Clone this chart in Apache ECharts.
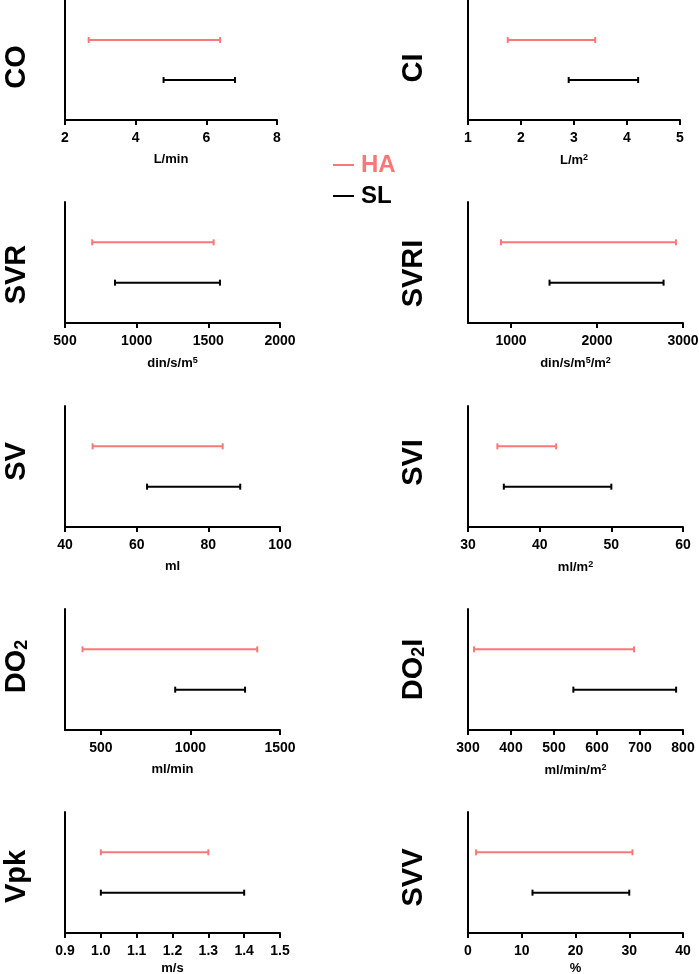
<!DOCTYPE html>
<html><head>
<meta charset="UTF-8">
<title>HA vs SL ranges</title>
<style>
  html, body { margin: 0; padding: 0; background: #fff; }
  #chart { width: 699px; height: 974px; }
</style>
</head>
<body>
<div id="chart"></div>
<script src="https://cdn.jsdelivr.net/npm/echarts@6/dist/echarts.min.js"></script>
<script>
// panel order: left/right per row
const names = ['CO', 'CI', 'SVR', 'SVRI', 'SV', 'SVI', 'DO{sub|2}', 'DO{sub|2}I', 'Vpk', 'SVV'];
const units = ['L/min', 'L/m{sup|2}', 'din/s/m{sup|5}', 'din/s/m{sup|5}/m{sup|2}', 'ml', 'ml/m{sup|2}',
               'ml/min', 'ml/min/m{sup|2}', 'm/s', '%'];
const axisMin = [2, 1, 500, 500, 40, 30, 300, 300, 0.9, 0];
const axisMax = [8, 5, 2000, 3000, 100, 60, 1500, 800, 1.5, 40];
const tickValues = [
  [2, 4, 6, 8],
  [1, 2, 3, 4, 5],
  [500, 1000, 1500, 2000],
  [1000, 2000, 3000],
  [40, 60, 80, 100],
  [30, 40, 50, 60],
  [500, 1000, 1500],
  [300, 400, 500, 600, 700, 800],
  [0.9, 1.0, 1.1, 1.2, 1.3, 1.4, 1.5],
  [0, 10, 20, 30, 40]
];
const haLow  = [2.67, 1.75, 690, 883, 47.7, 34.1, 398, 314, 1.0, 1.5];
const haHigh = [6.39, 3.40, 1537, 2918, 84.0, 42.3, 1373, 686, 1.3, 30.6];
const slLow  = [4.79, 2.90, 849, 1448, 62.9, 35.0, 915, 545, 1.0, 12.0];
const slHigh = [6.81, 4.21, 1581, 2774, 88.9, 50.0, 1305, 784, 1.4, 30.0];

const HA_COLOR = '#f87878';
const SL_COLOR = '#000000';
const FONT = "'Liberation Sans', Arial, sans-serif";

// layout
const rowBottom = [120, 323, 527, 730, 933];
const colLeft = [65, 468];
const gridH = 121;
// how far each panel title sits below the middle of its axis (px)
const titleDrop = [7, 8, 12, 11, -5, -4, -3, 0, 4, 5];

function rangeItem(params, api) {
  const a = api.coord([api.value(0), api.value(2)]);
  const b = api.coord([api.value(1), api.value(2)]);
  const color = api.visual('color');
  const cap = 3;
  const st = { stroke: color, lineWidth: 2 };
  return {
    type: 'group',
    children: [
      { type: 'line', shape: { x1: a[0], y1: a[1], x2: b[0], y2: b[1] }, style: st },
      { type: 'line', shape: { x1: a[0], y1: a[1] - cap, x2: a[0], y2: a[1] + cap }, style: st },
      { type: 'line', shape: { x1: b[0], y1: b[1] - cap, x2: b[0], y2: b[1] + cap }, style: st }
    ]
  };
}

const grids = [], xAxes = [], yAxes = [], series = [];

names.forEach((nm, i) => {
  const row = Math.floor(i / 2), col = i % 2;
  const bottom = rowBottom[row];
  const top = Math.max(0, bottom - gridH);
  const width = row === 0 ? 212 : 215;
  grids.push({
    left: colLeft[col], top: top, width: width, height: bottom - top,
    containLabel: false, outerBoundsMode: 'none'
  });

  const dec = tickValues[i].some(t => !Number.isInteger(t)) ? 1 : 0;
  xAxes.push({
    gridIndex: i,
    type: 'value',
    min: axisMin[i],
    max: axisMax[i],
    name: units[i],
    nameLocation: 'middle',
    nameGap: row === 4 ? 29 : 33,
    nameTextStyle: {
      fontFamily: FONT, fontSize: 13, fontWeight: 'bold', color: '#000',
      rich: {
        sup: { fontFamily: FONT, fontSize: 9, fontWeight: 'bold', color: '#000', verticalAlign: 'top', lineHeight: 14 }
      }
    },
    axisLine: { lineStyle: { color: '#000', width: 2 } },
    axisTick: { show: true, length: 5, lineStyle: { color: '#000', width: 2 }, customValues: tickValues[i] },
    axisLabel: {
      customValues: tickValues[i],
      margin: 11,
      fontFamily: FONT, fontSize: 14, fontWeight: 'bold', color: '#000',
      formatter: v => Number(v).toFixed(dec)
    },
    splitLine: { show: false }
  });

  const d = titleDrop[i];
  yAxes.push({
    gridIndex: i,
    type: 'value',
    min: 0,
    max: 3,
    name: nm,
    nameLocation: 'middle',
    nameRotate: 90,
    nameGap: col === 0 ? 34 : 40,
    nameTextStyle: {
      fontFamily: FONT, fontSize: 29, fontWeight: 'bold', color: '#000',
      padding: d >= 0 ? [0, 2 * d, 0, 0] : [0, 0, 0, -2 * d],
      rich: {
        sub: { fontFamily: FONT, fontSize: 18, fontWeight: 'bold', color: '#000', verticalAlign: 'bottom' }
      }
    },
    axisLine: { show: true, lineStyle: { color: '#000', width: 2 } },
    axisTick: { show: false },
    axisLabel: { show: false },
    splitLine: { show: false }
  });

  series.push({
    type: 'custom', name: 'HA', xAxisIndex: i, yAxisIndex: i,
    itemStyle: { color: HA_COLOR },
    encode: { x: [0, 1], y: 2 },
    data: [[haLow[i], haHigh[i], 2]],
    renderItem: rangeItem
  });
  series.push({
    type: 'custom', name: 'SL', xAxisIndex: i, yAxisIndex: i,
    itemStyle: { color: SL_COLOR },
    encode: { x: [0, 1], y: 2 },
    data: [[slLow[i], slHigh[i], 1]],
    renderItem: rangeItem
  });
});

const chart = echarts.init(document.getElementById('chart'));
chart.setOption({
  animation: false,
  backgroundColor: '#fff',
  legend: {
    orient: 'vertical',
    left: 333,
    top: 152,
    padding: 0,
    itemGap: 5,
    icon: 'rect',
    itemWidth: 21,
    itemHeight: 2,
    textStyle: { fontFamily: FONT, fontSize: 24, fontWeight: 'bold', lineHeight: 26, padding: [0, 0, 0, 2] },
    data: [
      { name: 'HA', textStyle: { color: HA_COLOR } },
      { name: 'SL', textStyle: { color: SL_COLOR } }
    ]
  },
  grid: grids,
  xAxis: xAxes,
  yAxis: yAxes,
  series: series
});
</script>
</body></html>
